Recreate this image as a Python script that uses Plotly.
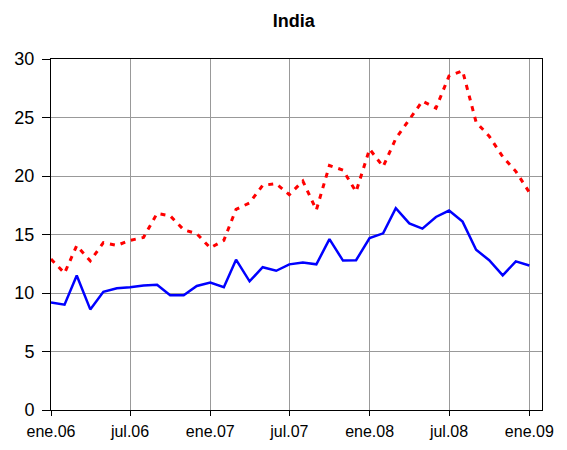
import plotly.graph_objects as go

# monthly data, ene.06 .. ene.09
months = [f"{y}-{m:02d}-01" for y in (2006, 2007, 2008) for m in range(1, 13)] + ["2009-01-01"]

blue_vals = [9.2, 9.0, 11.5, 8.6, 10.1, 10.4, 10.5, 10.65, 10.7, 9.8,
             9.8, 10.6, 10.9, 10.5, 12.85, 11.0, 12.2, 11.9, 12.45, 12.6,
             12.45, 14.6, 12.77, 12.8, 14.7, 15.1, 17.25, 15.95, 15.5, 16.5,
             17.05, 16.1, 13.7, 12.8, 11.5, 12.7, 12.35]

red_vals = [12.9, 11.7, 14.05, 12.75, 14.3, 14.07, 14.5, 14.75, 16.8, 16.6,
            15.4, 15.07, 13.85, 14.5, 17.15, 17.7, 19.2, 19.35, 18.4, 19.57,
            17.1, 20.9, 20.5, 18.66, 22.3, 20.8, 23.2, 24.87, 26.4, 25.8,
            28.55, 29.0, 24.6, 23.4, 21.65, 20.4, 18.6]

tick_vals = ["2006-01-01", "2006-07-01", "2007-01-01", "2007-07-01",
             "2008-01-01", "2008-07-01", "2009-01-01"]
tick_text = ["ene.06", "jul.06", "ene.07", "jul.07", "ene.08", "jul.08", "ene.09"]

fig = go.Figure()
fig.add_trace(go.Scatter(x=months, y=red_vals, mode="lines",
                         line=dict(color="#ff0000", width=3, dash="5px,6px")))
fig.add_trace(go.Scatter(x=months, y=blue_vals, mode="lines",
                         line=dict(color="#0000ff", width=2.5)))

fig.update_layout(
    width=567, height=450,
    margin=dict(l=51, r=25, t=59, b=40, autoexpand=False),
    paper_bgcolor="white", plot_bgcolor="white",
    showlegend=False,
    font=dict(family="Liberation Sans, Arial", color="black"),
    title=dict(text="<b>India</b>", x=0.518, xanchor="center",
               yref="container", y=0.955, yanchor="middle",
               font=dict(size=18)),
)
fig.update_xaxes(
    type="date", range=["2006-01-01", "2009-01-30"],
    tickvals=tick_vals, ticktext=tick_text,
    ticks="outside", ticklen=5, tickcolor="black",
    showgrid=True, gridcolor="#999999", gridwidth=1,
    showline=True, linecolor="black", linewidth=1, mirror=True,
    tickfont=dict(size=16), ticklabelstandoff=2, automargin=False,
)
fig.update_yaxes(
    range=[0, 30], dtick=5,
    ticks="outside", ticklen=8, tickcolor="black",
    showgrid=True, gridcolor="#999999", gridwidth=1,
    showline=True, linecolor="black", linewidth=1, mirror=True,
    zeroline=False,
    tickfont=dict(size=18), ticklabelstandoff=4, automargin=False,
)

# page body has a default 8px margin, drop it so the figure sits at 0,0
fig.write_html("out.html", config={"displayModeBar": False},
               post_script="document.body.style.margin='0';")
